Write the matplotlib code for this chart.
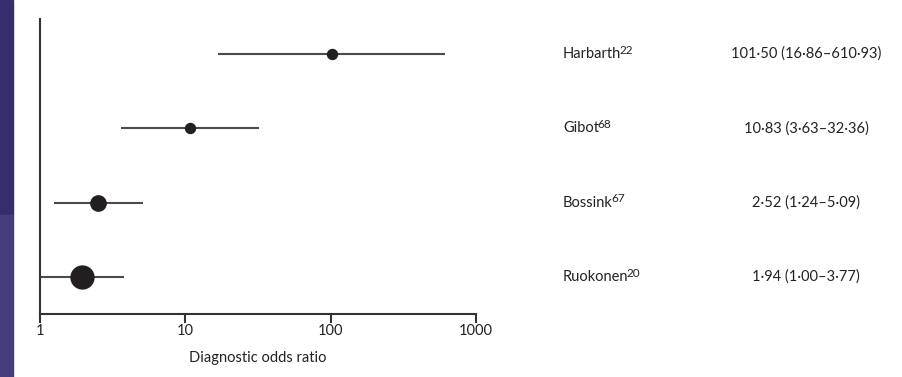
import matplotlib.pyplot as plt
from matplotlib.patches import Rectangle

plt.rcParams['font.family'] = ['Lato', 'DejaVu Sans']

studies = ['Harbarth', 'Gibot', 'Bossink', 'Ruokonen']
refs = ['22', '68', '67', '20']
dor = [101.50, 10.83, 2.52, 1.94]
ci_low = [16.86, 3.63, 1.24, 1.00]
ci_high = [610.93, 32.36, 5.09, 3.77]
labels = ['101·50 (16·86–610·93)', '10·83 (3·63–32·36)',
          '2·52 (1·24–5·09)', '1·94 (1·00–3·77)']
marker_size = [7.2, 7.2, 11, 16.5]

ink = '#231f20'
line_col = '#4a4a4a'
txt = '#222222'

fig = plt.figure(figsize=(9.02, 3.77), dpi=100)
# navy strip down the left edge
fig.patches.append(Rectangle((0, 0.43), 13 / 902, 0.57, transform=fig.transFigure,
                             color='#332f6e', zorder=0))
fig.patches.append(Rectangle((0, 0), 13 / 902, 0.43, transform=fig.transFigure,
                             color='#433f7f', zorder=0))

ax = fig.add_axes([40 / 902, 63 / 377, 436 / 902, 295 / 377])
ax.set_xscale('log')
ax.set_xlim(1, 1000)
ax.set_ylim(0.5, 4.47)

ypos = [4, 3, 2, 1]
for y, lo, hi, d, ms in zip(ypos, ci_low, ci_high, dor, marker_size):
    ax.plot([lo, hi], [y, y], color=line_col, lw=1.5, solid_capstyle='butt', zorder=2)
    ax.plot([d], [y], 'o', color=ink, ms=ms, mec=ink, zorder=3)

ax.spines['top'].set_visible(False)
ax.spines['right'].set_visible(False)
for s in ('left', 'bottom'):
    ax.spines[s].set_color('#333333')
    ax.spines[s].set_linewidth(1.5)
ax.set_yticks([])
ax.set_xticks([1, 10, 100, 1000])
ax.set_xticklabels(['1', '10', '100', '1000'])
ax.xaxis.set_minor_locator(plt.NullLocator())
ax.tick_params(axis='x', length=6.5, width=1.5, color='#333333', labelsize=10.5,
               labelcolor=txt, pad=1)
ax.set_xlabel('Diagnostic odds ratio', fontsize=10.5, color=txt, labelpad=9)

# study names (with reference superscripts) and estimates right of the plot
for y, name, ref, lab in zip(ypos, studies, refs, labels):
    t = ax.annotate(name, xy=(563 / 902, y), xycoords=('figure fraction', 'data'),
                    ha='left', va='center', fontsize=10.5, color=txt)
    ax.annotate(ref, xy=(1, 1), xycoords=t, xytext=(-1.2, 1.5), textcoords='offset points',
                ha='left', va='top', fontsize=8.5, color=txt)
    ax.annotate(lab, xy=(806 / 902, y), xycoords=('figure fraction', 'data'),
                ha='center', va='center', fontsize=10.5, color=txt)

fig.savefig('out.png', dpi=100)
